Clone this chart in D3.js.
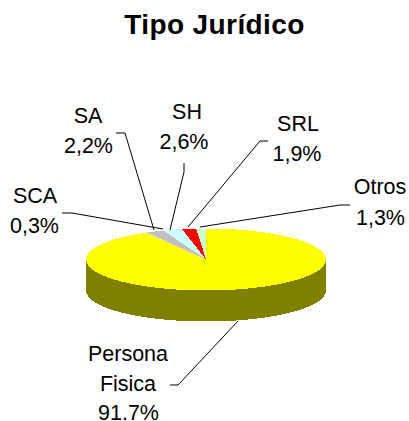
<!DOCTYPE html>
<html><head><meta charset="utf-8">
<script src="https://cdn.jsdelivr.net/npm/d3@7/dist/d3.min.js"></script>
<style>html,body{margin:0;padding:0;background:#fff}svg{display:block}text{font-family:"Liberation Sans",Arial,sans-serif;fill:#000}</style>
</head><body><script>
const categories = ["Persona Fisica","SCA","SA","SH","SRL","Otros"];
const values = [91.7,0.3,2.2,2.6,1.9,1.3];
const valueLabels = ["91.7%","0,3%","2,2%","2,6%","1,9%","1,3%"];
const colors = ["#FFFF00","#CCCCFF","#C0C0C0","#CCFFFF","#FF0000","#CCFFCC"];
const sideColor = "#808000";
const W=409,H=421,cx=206,cy=259.5,rx=120,ry=31,depth=31;
const svg=d3.select("body").append("svg").attr("width",W).attr("height",H);
svg.append("text").attr("x",214.5).attr("y",34).attr("text-anchor","middle").attr("font-size",28).attr("letter-spacing",0.4).attr("font-weight","bold").text("Tipo Jurídico");
const pie=d3.pie().sort(null).value(d=>d)(values);
const ex=d3.scaleLinear().domain([0,1]).range([cx,cx+rx]);
const ey=d3.scaleLinear().domain([0,1]).range([cy,cy-ry]);
const angs=d3.range(Math.PI/2,3*Math.PI/2+0.001,Math.PI/90);
const side=d3.area().x(a=>ex(Math.sin(a))).y0(a=>ey(Math.cos(a))).y1(a=>ey(Math.cos(a))+depth);
svg.append("path").attr("d",side(angs)).attr("fill",sideColor).attr("shape-rendering","crispEdges");
const arc=d3.arc().innerRadius(0).outerRadius(rx);
svg.append("g").attr("transform",`translate(${cx},${cy}) scale(1,${ry/rx})`)
  .selectAll("path").data(pie).join("path").attr("d",arc).attr("fill",(d,i)=>colors[i]).attr("shape-rendering","crispEdges");
const leaders=[
 [[170,385],[178,385],[238,321]],
 [[62,213],[72,213],[163,229]],
 [[116,133],[125,133],[154,230]],
 [[184,163],[184,172],[170,230]],
 [[268,141],[260,141],[188,227]],
 [[350,205],[340,205],[200,227]]];
svg.append("g").selectAll("path").data(leaders).join("path").attr("d",d3.line()).attr("fill","none").attr("stroke","#000").attr("stroke-width",1);
const labelLines=[
 [["Persona",128,361],["Fisica",128,391],[valueLabels[0],128.5,420]],
 [["SCA",35,203],[valueLabels[1],34.5,233]],
 [["SA",88,123],[valueLabels[2],88.5,153]],
 [["SH",187,119],[valueLabels[3],184,149]],
 [["SRL",298,131],[valueLabels[4],297,161]],
 [["Otros",380,194],[valueLabels[5],380.5,225]]];
labelLines.forEach(ls=>ls.forEach(([t,x,y])=>svg.append("text").attr("x",x).attr("y",y).attr("text-anchor","middle").attr("font-size",21.5).text(t)));
</script></body></html>
